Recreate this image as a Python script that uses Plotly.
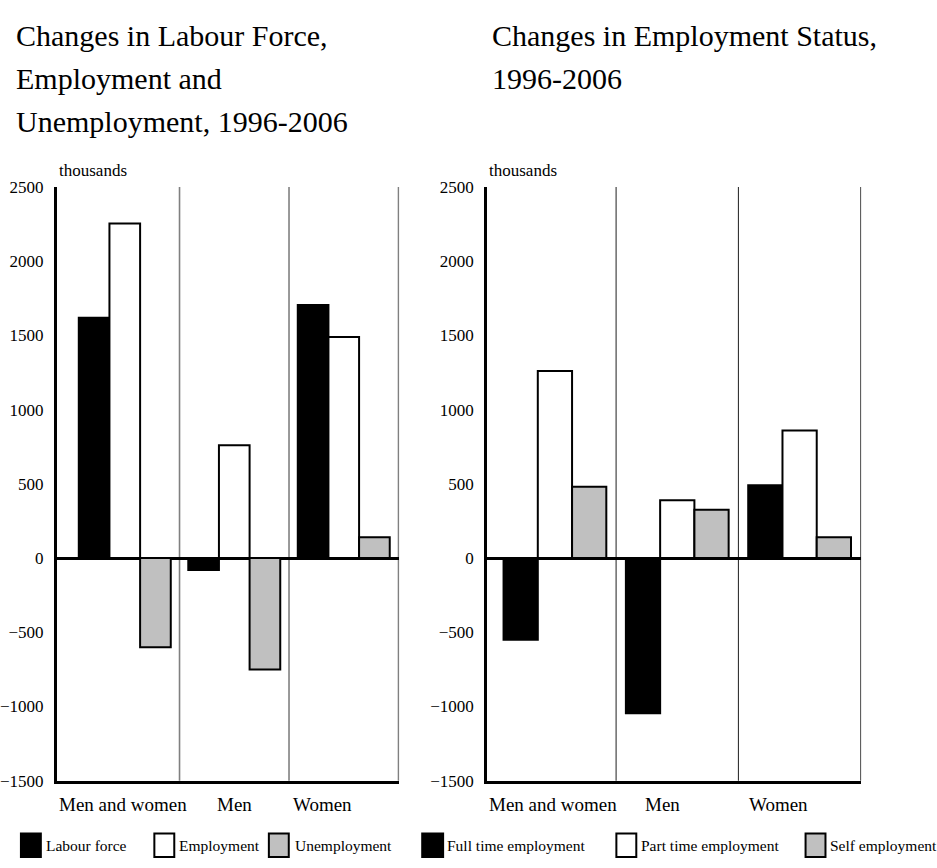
import plotly.graph_objects as go

W, H = 937, 868

# ---------------- data ----------------
categories = ["Men and women", "Men", "Women"]

labour_force = [1620, -80, 1705]
employment = [2255, 760, 1490]
unemployment = [-600, -750, 140]

full_time = [-550, -1045, 490]
part_time = [1260, 390, 860]
self_employment = [480, 325, 140]

y_ticks = [2500, 2000, 1500, 1000, 500, 0, -500, -1000, -1500]

left_title = ["Changes in Labour Force,", "Employment and", "Unemployment, 1996-2006"]
right_title = ["Changes in Employment Status,", "1996-2006"]
left_legend = ["Labour force", "Employment", "Unemployment"]
right_legend = ["Full time employment", "Part time employment", "Self employment"]

# ---------------- styles ----------------
BLACK, WHITE, GREY = "#000000", "#ffffff", "#c0c0c0"
FONT = "Liberation Serif"


def px_x(p):
    return p / W


def px_y(p):
    return 1 - p / H


fig = go.Figure()

series_left = [(left_legend[0], labour_force, BLACK),
               (left_legend[1], employment, WHITE),
               (left_legend[2], unemployment, GREY)]
series_right = [(right_legend[0], full_time, BLACK),
                (right_legend[1], part_time, WHITE),
                (right_legend[2], self_employment, GREY)]

for name, vals, col in series_left:
    fig.add_trace(go.Bar(x=categories, y=vals, name=name, xaxis="x", yaxis="y",
                         marker=dict(color=col, line=dict(color=BLACK, width=2)),
                         showlegend=False, offsetgroup=name))
for name, vals, col in series_right:
    fig.add_trace(go.Bar(x=categories, y=vals, name=name, xaxis="x2", yaxis="y2",
                         marker=dict(color=col, line=dict(color=BLACK, width=2)),
                         showlegend=False, offsetgroup=name))

y_dom = [px_y(789), px_y(182)]
yaxis_common = dict(range=[-1500, 2500], tickvals=y_ticks, showgrid=False,
                    zeroline=True, zerolinecolor=BLACK, zerolinewidth=3,
                    showline=True, linecolor=BLACK, linewidth=2.5,
                    ticks="", ticklabelstandoff=7,
                    tickfont=dict(family=FONT, size=17, color=BLACK),
                    fixedrange=True, domain=y_dom)
xaxis_common = dict(showgrid=False, zeroline=False, showline=True,
                    linecolor=BLACK, linewidth=3, ticks="",
                    showticklabels=False, fixedrange=True)

fig.update_layout(
    width=W, height=H, autosize=False,
    margin=dict(l=0, r=0, t=0, b=0),
    paper_bgcolor=WHITE, plot_bgcolor=WHITE,
    barmode="group", bargroupgap=0,
    showlegend=False,
    xaxis=dict(domain=[px_x(53), px_x(397)], anchor="y", **xaxis_common),
    yaxis=dict(anchor="x", **yaxis_common),
    xaxis2=dict(domain=[px_x(485), px_x(861)], anchor="y2", **xaxis_common),
    yaxis2=dict(anchor="x2", **yaxis_common),
    font=dict(family=FONT, color=BLACK),
)
fig.update_layout(bargap=0.16)

# separators between categories
shapes = []
for xr, yr, col, wd in [("x", "y domain", "#808080", 1.6), ("x2", "y2 domain", "#333333", 1.1)]:
    for b in [0.5, 1.5, 2.5]:
        shapes.append(dict(type="line", xref=xr, yref=yr, x0=b, x1=b, y0=0, y1=1,
                           line=dict(color=col, width=wd), layer="below"))

annotations = []
# titles
for i, line in enumerate(left_title):
    annotations.append(dict(text=line, xref="paper", yref="paper", x=px_x(10), y=px_y(27 + 44 * i),
                            xanchor="left", yanchor="middle", showarrow=False,
                            font=dict(family=FONT, size=30, color=BLACK)))
for i, line in enumerate(right_title):
    annotations.append(dict(text=line, xref="paper", yref="paper", x=px_x(488), y=px_y(27 + 44 * i),
                            xanchor="left", yanchor="middle", showarrow=False,
                            font=dict(family=FONT, size=30, color=BLACK)))
# unit labels
for xr, yr in [("x domain", "y domain"), ("x2 domain", "y2 domain")]:
    annotations.append(dict(text="thousands", xref=xr, yref=yr, x=0, y=1, xanchor="left",
                            yanchor="middle", yshift=17, showarrow=False,
                            font=dict(family=FONT, size=17, color=BLACK)))
# category labels
shifts_left = [-2, 0, -21]
shifts_right = [-2, -15, -21]
for xr, yr, shifts in [("x", "y domain", shifts_left), ("x2", "y2 domain", shifts_right)]:
    for cat, sh in zip(categories, shifts):
        annotations.append(dict(text=cat, xref=xr, yref=yr, x=cat, y=0, xanchor="center",
                                yanchor="middle", yshift=-24, xshift=sh, showarrow=False,
                                font=dict(family=FONT, size=19, color=BLACK)))

# manual legend
legend_items = [(left_legend[0], BLACK, 17, 37, 40),
                (left_legend[1], WHITE, 151, 171, 174),
                (left_legend[2], GREY, 266, 286, 290),
                (right_legend[0], BLACK, 420, 441, 443),
                (right_legend[1], WHITE, 615, 635, 638),
                (right_legend[2], GREY, 805, 825, 828)]
for name, col, x0, x1, tx in legend_items:
    shapes.append(dict(type="rect", xref="paper", yref="paper",
                       x0=px_x(x0), x1=px_x(x1), y0=px_y(867), y1=px_y(843),
                       fillcolor=col, line=dict(color=BLACK, width=2)))
    annotations.append(dict(text=name, xref="paper", yref="paper", x=px_x(tx), y=px_y(855),
                            xanchor="left", yanchor="middle", showarrow=False,
                            font=dict(family=FONT, size=15.5, color=BLACK)))

fig.update_layout(shapes=shapes, annotations=annotations)

fig.write_html("out.html", config={"displayModeBar": False},
               post_script="document.body.style.margin='0px';document.body.style.overflow='hidden';")
